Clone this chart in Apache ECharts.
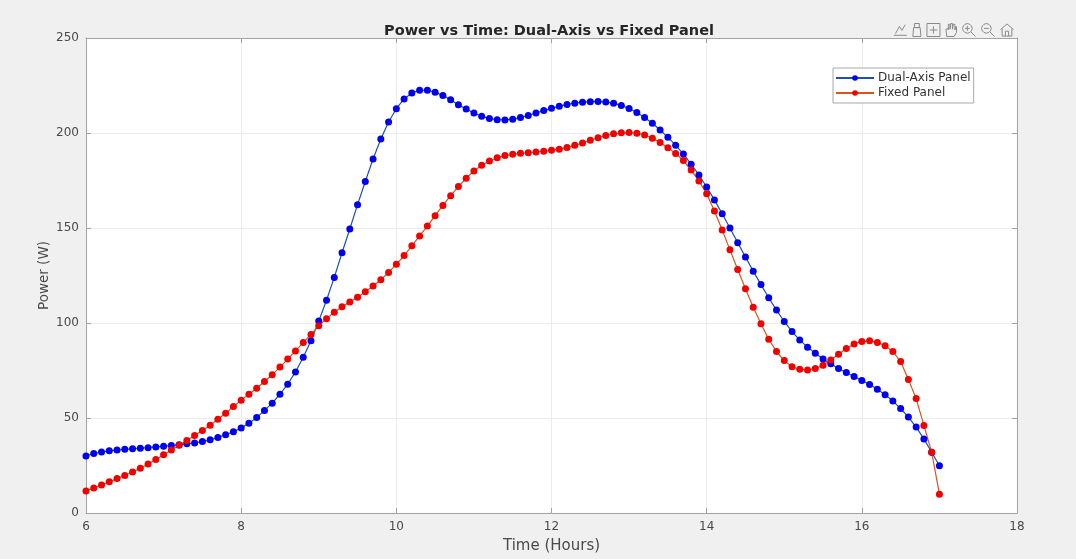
<!DOCTYPE html>
<html>
<head>
<meta charset="utf-8">
<title>Power vs Time</title>
<script src="https://cdn.jsdelivr.net/npm/echarts@6/dist/echarts.min.js"></script>
<style>
  html, body { margin: 0; padding: 0; background: #f0f0f0; }
  #chart { width: 1076px; height: 559px; }
</style>
</head>
<body>
<div id="chart"></div>
<script>
// Sample times (hours), one reading every 0.1 h
const hours = [
  6.0, 6.1, 6.2, 6.3, 6.4, 6.5, 6.6, 6.7, 6.8, 6.9,
  7.0, 7.1, 7.2, 7.3, 7.4, 7.5, 7.6, 7.7, 7.8, 7.9,
  8.0, 8.1, 8.2, 8.3, 8.4, 8.5, 8.6, 8.7, 8.8, 8.9,
  9.0, 9.1, 9.2, 9.3, 9.4, 9.5, 9.6, 9.7, 9.8, 9.9,
  10.0, 10.1, 10.2, 10.3, 10.4, 10.5, 10.6, 10.7, 10.8, 10.9,
  11.0, 11.1, 11.2, 11.3, 11.4, 11.5, 11.6, 11.7, 11.8, 11.9,
  12.0, 12.1, 12.2, 12.3, 12.4, 12.5, 12.6, 12.7, 12.8, 12.9,
  13.0, 13.1, 13.2, 13.3, 13.4, 13.5, 13.6, 13.7, 13.8, 13.9,
  14.0, 14.1, 14.2, 14.3, 14.4, 14.5, 14.6, 14.7, 14.8, 14.9,
  15.0, 15.1, 15.2, 15.3, 15.4, 15.5, 15.6, 15.7, 15.8, 15.9,
  16.0, 16.1, 16.2, 16.3, 16.4, 16.5, 16.6, 16.7, 16.8, 16.9,
  17.0
];

// Output power of the dual-axis tracking panel (W)
const dualAxisPower = [
  30.0, 31.3, 32.1, 32.7, 33.1, 33.5, 33.8, 34.1, 34.4, 34.8,
  35.1, 35.5, 35.9, 36.4, 36.9, 37.6, 38.5, 39.8, 41.2, 42.8,
  44.8, 47.2, 50.2, 54.0, 57.8, 62.5, 67.8, 74.2, 82.0, 90.6,
  101.0, 112.0, 124.0, 137.0, 149.5, 162.3, 174.5, 186.3, 196.8, 205.8,
  212.8, 217.9, 221.1, 222.5, 222.5, 221.4, 219.8, 217.5, 214.9, 212.6,
  210.5, 208.8, 207.6, 207.0, 206.9, 207.3, 208.1, 209.2, 210.5, 211.8,
  213.0, 214.1, 215.0, 215.7, 216.2, 216.5, 216.6, 216.3, 215.6, 214.5,
  212.9, 210.8, 208.2, 205.1, 201.6, 197.7, 193.6, 188.9, 183.6, 177.9,
  171.6, 164.8, 157.5, 150.0, 142.3, 134.7, 127.3, 120.2, 113.3, 106.8,
  100.8, 95.5, 91.0, 87.3, 84.1, 81.1, 78.5, 76.1, 73.9, 71.8,
  69.8, 67.6, 65.1, 62.2, 58.9, 55.0, 50.5, 45.2, 39.0, 32.0,
  24.9
];

// Output power of the fixed panel (W)
const fixedPower = [
  11.6, 13.2, 14.8, 16.4, 18.1, 19.8, 21.6, 23.6, 25.8, 28.2,
  30.7, 33.2, 35.7, 38.2, 40.8, 43.4, 46.2, 49.3, 52.5, 56.0,
  59.4, 62.5, 65.7, 69.2, 72.8, 76.8, 81.0, 85.3, 89.7, 94.0,
  98.5, 102.3, 105.7, 108.5, 111.0, 113.6, 116.4, 119.5, 122.8, 126.6,
  130.9, 135.5, 140.6, 145.8, 151.0, 156.5, 161.9, 167.0, 171.8, 176.2,
  180.0, 183.0, 185.3, 187.0, 188.1, 188.8, 189.3, 189.6, 190.0, 190.4,
  190.9, 191.5, 192.4, 193.5, 194.8, 196.2, 197.5, 198.7, 199.6, 200.1,
  200.2, 199.9, 198.9, 197.3, 195.0, 192.3, 189.2, 185.5, 180.5, 174.8,
  168.0, 159.0, 149.0, 138.5, 128.2, 118.0, 108.3, 99.6, 91.5, 85.0,
  80.2, 77.0, 75.6, 75.3, 76.0, 77.8, 80.5, 83.6, 86.6, 89.0,
  90.3, 90.6, 89.8, 88.0, 85.0, 79.7, 70.3, 60.2, 46.1, 32.0,
  9.9
];

const seriesNames = ['Dual-Axis Panel', 'Fixed Panel'];
const xTicks = { min: 6, max: 18, step: 2 };
const yTicks = { min: 0, max: 250, step: 50 };

const pair = (xs, ys) => xs.map((x, i) => [x, ys[i]]);

const FONT = '"DejaVu Sans", "Liberation Sans", Arial, sans-serif';
const AXIS_COLOR = '#a3a3a3';
const TEXT_COLOR = '#4a4a4a';

// Top and right edges of the axes box, with mirrored inward ticks
function frameAxis(position, ticks) {
  return {
    type: 'value',
    position: position,
    min: ticks.min, max: ticks.max, interval: ticks.step,
    axisLine: { show: true, onZero: false, lineStyle: { color: AXIS_COLOR, width: 1 } },
    axisTick: { show: true, inside: true, length: 5, lineStyle: { color: AXIS_COLOR } },
    axisLabel: { show: false },
    splitLine: { show: false }
  };
}

const chart = echarts.init(document.getElementById('chart'), null, { renderer: 'canvas' });

chart.setOption({
  animation: false,
  backgroundColor: '#f0f0f0',
  title: {
    text: 'Power vs Time: Dual-Axis vs Fixed Panel',
    left: 544,
    top: 19,
    textAlign: 'center',
    textStyle: { fontFamily: FONT, fontSize: 14.5, fontWeight: 'bold', color: '#262626' }
  },
  toolbox: {
    right: 45,
    top: 6,
    itemSize: 13,
    itemGap: 1,
    showTitle: false,
    iconStyle: { borderColor: '#8a8a8a', borderWidth: 1, color: 'none' },
    feature: {
      myExport: { title: 'Export', icon: 'path://M2,17 L18,17 M4,15 L9,6 L12,11 L16,4', onclick: function () {} },
      myBrush: { title: 'Brush', icon: 'path://M7,2 L13,2 L13,7 L7,7 Z M6,7 L14,7 L15,18 L5,18 Z', onclick: function () {} },
      myTip: { title: 'Data Tips', icon: 'path://M3,3 L17,3 L17,17 L3,17 Z M10,6 L10,14 M6,10 L14,10', onclick: function () {} },
      myPan: { title: 'Pan', icon: 'path://M5,18 L4,9 L6,8 L7,10 L7,3 L9,3 L9,9 L10,2 L12,2 L12,9 L13,3 L15,3 L15,10 L16,6 L17,6 L17,13 L14,18 Z', onclick: function () {} },
      myZoomIn: { title: 'Zoom In', icon: 'path://M8,2 L11,3 L13,5 L14,8 L13,11 L11,13 L8,14 L5,13 L3,11 L2,8 L3,5 L5,3 Z M12.5,12.5 L18,18 M5,8 L11,8 M8,5 L8,11', onclick: function () {} },
      myZoomOut: { title: 'Zoom Out', icon: 'path://M8,2 L11,3 L13,5 L14,8 L13,11 L11,13 L8,14 L5,13 L3,11 L2,8 L3,5 L5,3 Z M12.5,12.5 L18,18 M5,8 L11,8', onclick: function () {} },
      myHome: { title: 'Restore View', icon: 'path://M2,10 L10,3 L18,10 M4,8.5 L4,18 L16,18 L16,8.5 M8,18 L8,12 L12,12 L12,18', onclick: function () {} }
    }
  },
  legend: {
    data: seriesNames,
    orient: 'vertical',
    left: 833,
    top: 68,
    padding: [4, 3, 4, 2],
    itemGap: 3,
    itemWidth: 38,
    itemHeight: 7,
    backgroundColor: '#ffffff',
    borderColor: '#a8a8a8',
    borderWidth: 1,
    borderRadius: 0,
    selectedMode: false,
    textStyle: { fontFamily: FONT, fontSize: 12, color: '#333333', padding: [0, 0, 0, -1] }
  },
  grid: {
    left: 86,
    right: 59,
    top: 38,
    bottom: 46,
    show: true,
    backgroundColor: '#ffffff',
    borderWidth: 0
  },
  xAxis: [
    {
      type: 'value',
      min: xTicks.min, max: xTicks.max, interval: xTicks.step,
      name: 'Time (Hours)',
      nameLocation: 'middle',
      nameGap: 26,
      nameMoveOverlap: false,
      nameTextStyle: { fontFamily: FONT, fontSize: 15, color: TEXT_COLOR },
      axisLine: { show: true, onZero: false, lineStyle: { color: AXIS_COLOR, width: 1 } },
      axisTick: { show: true, inside: true, length: 5, lineStyle: { color: AXIS_COLOR } },
      axisLabel: { fontFamily: FONT, fontSize: 12, color: TEXT_COLOR, margin: 8 },
      splitLine: { show: true, lineStyle: { color: '#ececec', width: 1 } }
    },
    frameAxis('top', xTicks)
  ],
  yAxis: [
    {
      type: 'value',
      min: yTicks.min, max: yTicks.max, interval: yTicks.step,
      name: 'Power (W)',
      nameLocation: 'middle',
      nameGap: 35,
      nameMoveOverlap: false,
      nameTextStyle: { fontFamily: FONT, fontSize: 13.5, color: TEXT_COLOR },
      axisLine: { show: true, onZero: false, lineStyle: { color: AXIS_COLOR, width: 1 } },
      axisTick: { show: true, inside: true, length: 5, lineStyle: { color: AXIS_COLOR } },
      axisLabel: { fontFamily: FONT, fontSize: 12, color: TEXT_COLOR, margin: 7 },
      splitLine: { show: true, lineStyle: { color: '#ececec', width: 1 } }
    },
    frameAxis('right', yTicks)
  ],
  series: [
    {
      name: seriesNames[0],
      type: 'line',
      xAxisIndex: 0,
      yAxisIndex: 0,
      data: pair(hours, dualAxisPower),
      symbol: 'circle',
      symbolSize: 7,
      showAllSymbol: true,
      lineStyle: { color: '#1f4fb0', width: 1.2 },
      itemStyle: { color: '#0000f0', borderWidth: 0 },
      emphasis: { disabled: true }
    },
    {
      name: seriesNames[1],
      type: 'line',
      xAxisIndex: 0,
      yAxisIndex: 0,
      data: pair(hours, fixedPower),
      symbol: 'circle',
      symbolSize: 7,
      showAllSymbol: true,
      lineStyle: { color: '#d9531e', width: 1.2 },
      itemStyle: { color: '#f20000', borderWidth: 0 },
      emphasis: { disabled: true }
    }
  ]
});
</script>
</body>
</html>
